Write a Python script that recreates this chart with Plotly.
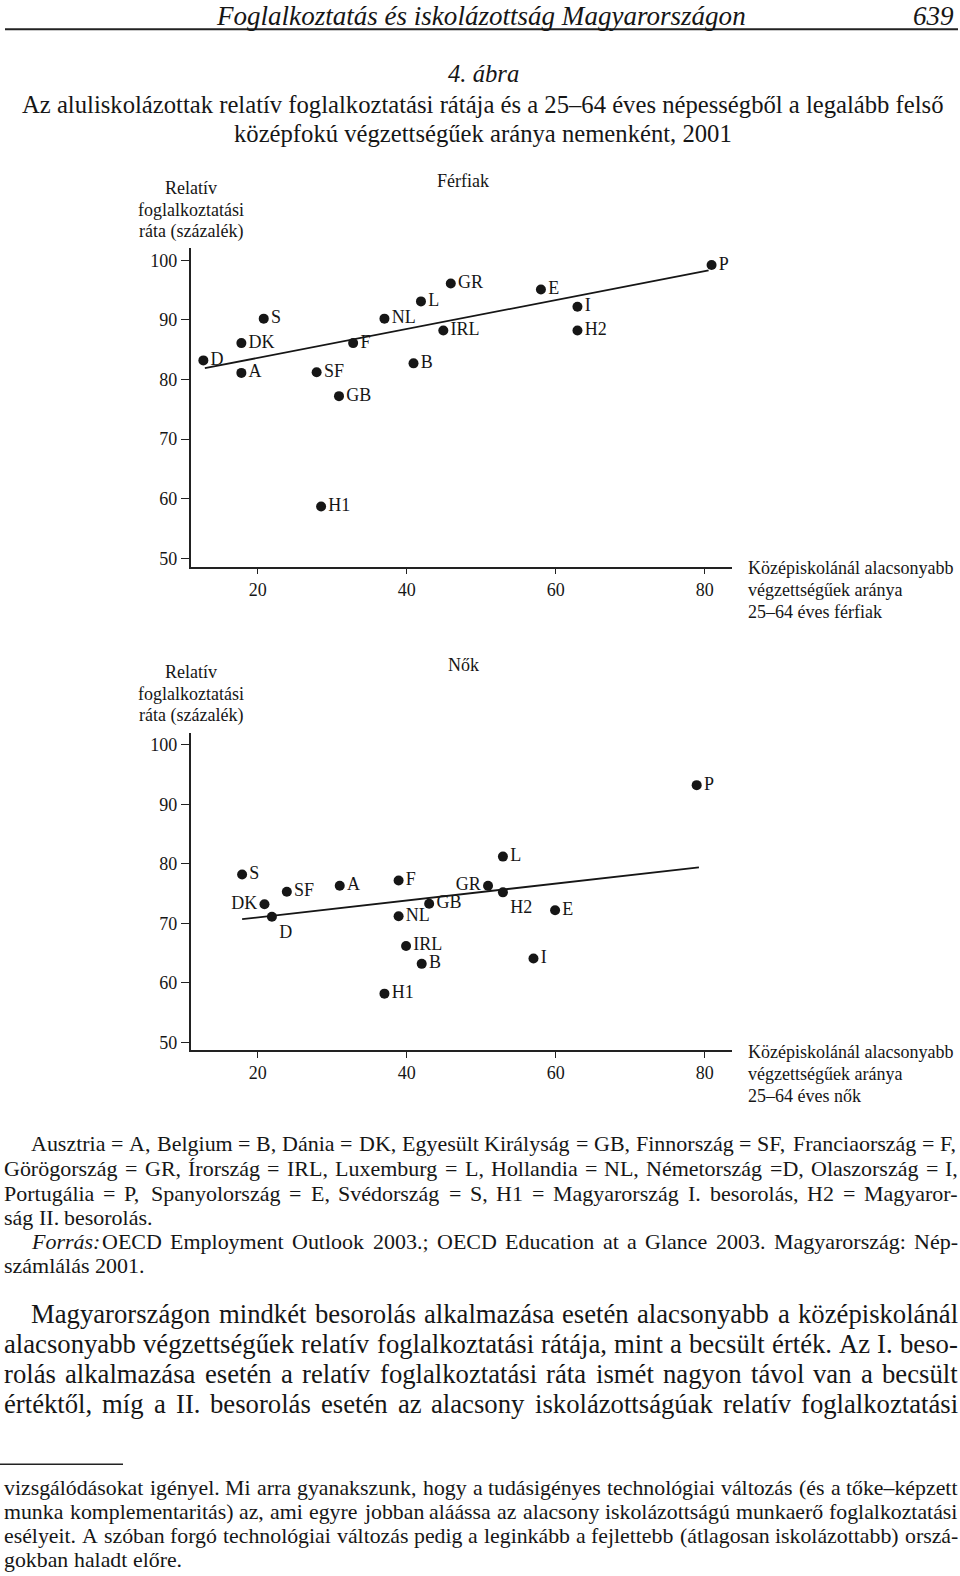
import unicodedata
import plotly.graph_objects as go

# ---------------- data ----------------
men_codes = ["D", "A", "DK", "S", "SF", "GB", "F", "NL", "B", "L", "GR", "IRL", "E", "I", "H2", "P", "H1"]
men_x = [12.7, 17.8, 17.8, 20.8, 27.9, 30.9, 32.8, 37.0, 40.9, 41.9, 45.9, 44.9, 58.0, 62.9, 62.9, 80.9, 28.5]
men_y = [83.2, 81.1, 86.1, 90.2, 81.2, 77.2, 86.1, 90.2, 82.7, 93.1, 96.1, 88.2, 95.1, 92.2, 88.2, 99.2, 58.7]
men_trend_x = [12.9, 80.5]
men_trend_y = [81.9, 98.3]

women_codes = ["S", "DK", "D", "SF", "A", "F", "NL", "IRL", "B", "H1", "GB", "GR", "L", "H2", "E", "I", "P"]
women_x = [17.9, 20.9, 21.9, 23.9, 31.0, 38.9, 38.9, 39.9, 42.0, 37.0, 43.0, 50.9, 52.9, 52.9, 59.9, 57.0, 78.9]
women_y = [78.2, 73.2, 71.1, 75.3, 76.3, 77.2, 71.2, 66.2, 63.2, 58.2, 73.3, 76.3, 81.2, 75.2, 72.2, 64.1, 93.2]
women_trend_x = [17.9, 79.2]
women_trend_y = [70.7, 79.4]

x_ticks = [20, 40, 60, 80]
y_ticks = [50, 60, 70, 80, 90, 100]

header_title = "Foglalkoztatás és iskolázottság Magyarországon"
page_no = "639"
fig_no = "4. ábra"
title_lines = [
    "Az aluliskolázottak relatív foglalkoztatási rátája és a 25–64 éves népességből a legalább felső",
    "középfokú végzettségűek aránya nemenként, 2001",
]
panel_titles = ["Férfiak", "Nők"]
y_title_lines = ["Relatív", "foglalkoztatási", "ráta (százalék)"]
x_title_lines_men = ["Középiskolánál alacsonyabb", "végzettségűek aránya", "25–64 éves férfiak"]
x_title_lines_women = ["Középiskolánál alacsonyabb", "végzettségűek aránya", "25–64 éves nők"]

legend_lines = [
    "Ausztria = A, Belgium = B, Dánia = DK, Egyesült Királyság = GB, Finnország = SF, Franciaország = F,",
    "Görögország = GR, Írország = IRL, Luxemburg = L, Hollandia = NL, Németország =D, Olaszország = I,",
    "Portugália = P, Spanyolország = E, Svédország = S, H1 = Magyarország I. besorolás, H2 = Magyaror-",
    "ság II. besorolás.",
    "*Forrás: OECD Employment Outlook 2003.; OECD Education at a Glance 2003. Magyarország: Nép-",
    "számlálás 2001.",
]
para_lines = [
    "Magyarországon mindkét besorolás alkalmazása esetén alacsonyabb a középiskolánál",
    "alacsonyabb végzettségűek relatív foglalkoztatási rátája, mint a becsült érték. Az I. beso-",
    "rolás alkalmazása esetén a relatív foglalkoztatási ráta ismét nagyon távol van a becsült",
    "értéktől, míg a II. besorolás esetén az alacsony iskolázottságúak relatív foglalkoztatási",
]
foot_lines = [
    "vizsgálódásokat igényel. Mi arra gyanakszunk, hogy a tudásigényes technológiai változás (és a tőke–képzett",
    "munka komplementaritás) az, ami egyre jobban aláássa az alacsony iskolázottságú munkaerő foglalkoztatási",
    "esélyeit. A szóban forgó technológiai változás pedig a leginkább a fejlettebb (átlagosan iskolázottabb) orszá-",
    "gokban haladt előre.",
]

# ---------------- helpers ----------------
W, H = 960, 1576
FONT = "Liberation Serif, Times New Roman, serif"
INK = "#161616"


def px(x):
    return x / W


def py(y):
    return 1 - y / H


_w = dict(zip("abcdefghijklmnopqrstuvwxyz",
              [444, 500, 444, 500, 444, 333, 500, 500, 278, 278, 500, 278, 778, 500, 500, 500, 500, 333, 389, 278,
               500, 500, 722, 500, 500, 444]))
_w.update(dict(zip("ABCDEFGHIJKLMNOPQRSTUVWXYZ",
                   [722, 667, 667, 722, 611, 556, 722, 722, 333, 389, 722, 611, 889, 722, 722, 556, 722, 667, 556,
                    611, 722, 722, 944, 722, 722, 611])))
_w.update({d: 500 for d in "0123456789"})
_w.update({" ": 250, ",": 250, ".": 250, ":": 278, ";": 278, "=": 564, "(": 333, ")": 333, "-": 333, "–": 500})


def em(s):
    tot = 0
    for c in s:
        b = unicodedata.normalize("NFD", c)[0]
        tot += _w.get(b, 500)
    return tot / 1000.0


annotations = []


def add_text(text, x, y, size, xanchor="left", italic=False, color=INK, yanchor="middle"):
    t = "<i>" + text + "</i>" if italic else text
    annotations.append(dict(text=t, x=px(x), y=py(y), xref="paper", yref="paper", xanchor=xanchor,
                            yanchor=yanchor, showarrow=False, borderpad=0,
                            font=dict(family=FONT, size=size, color=color)))


def justified_block(lines, first_indent_idx, ys, left, right, indent, size, last_flags):
    for i, line in enumerate(lines):
        x0 = left + (indent if i in first_indent_idx else 0)
        words = line.split(" ")
        italic_first = False
        if words[0].startswith("*"):
            words[0] = words[0][1:]
            italic_first = True
        if last_flags[i] or len(words) == 1:
            xc = x0
            for j, w in enumerate(words):
                add_text(w, xc, ys[i], size, italic=(italic_first and j == 0))
                xc += em(w) * size + em(" ") * size
            continue
        widths = [em(w) * size for w in words]
        gap = (right - x0 - sum(widths)) / (len(words) - 1)
        xc = x0
        for j, w in enumerate(words):
            add_text(w, xc, ys[i], size, italic=(italic_first and j == 0))
            xc += widths[j] + gap


# ---------------- figure ----------------
fig = go.Figure()

men_pos = ["middle right"] * len(men_codes)
women_pos = []
for c in women_codes:
    if c in ("DK", "GR"):
        women_pos.append("middle left")
    elif c in ("D", "H2"):
        women_pos.append("bottom right")
    else:
        women_pos.append("middle right")

fig.add_trace(go.Scatter(x=men_trend_x, y=men_trend_y, mode="lines", line=dict(color=INK, width=1.8),
                         xaxis="x", yaxis="y", hoverinfo="skip"))
fig.add_trace(go.Scatter(x=men_x, y=men_y, text=men_codes, mode="markers+text", textposition=men_pos,
                         marker=dict(size=10, color=INK), textfont=dict(family=FONT, size=18, color=INK),
                         xaxis="x", yaxis="y", cliponaxis=False))
fig.add_trace(go.Scatter(x=women_trend_x, y=women_trend_y, mode="lines", line=dict(color=INK, width=1.8),
                         xaxis="x2", yaxis="y2", hoverinfo="skip"))
fig.add_trace(go.Scatter(x=women_x, y=women_y, text=women_codes, mode="markers+text", textposition=women_pos,
                         marker=dict(size=10, color=INK), textfont=dict(family=FONT, size=18, color=INK),
                         xaxis="x2", yaxis="y2", cliponaxis=False))

xdom = [px(190.7), px(731.7)]
axis_common = dict(showline=True, linecolor="#222", linewidth=1.6, showgrid=False, zeroline=False,
                   ticks="outside", tickcolor="#222", tickwidth=1.4,
                   tickfont=dict(family=FONT, size=18, color=INK), fixedrange=True)

fig.update_layout(
    width=W, height=H, margin=dict(l=0, r=0, t=0, b=0),
    paper_bgcolor="white", plot_bgcolor="white", showlegend=False,
    xaxis=dict(domain=xdom, range=[11.0, 83.6], tickvals=x_ticks, ticklen=6, anchor="y", **axis_common),
    yaxis=dict(domain=[py(567.7), py(248.8)], range=[48.6, 102], tickvals=y_ticks, ticklen=8, anchor="x",
               **axis_common),
    xaxis2=dict(domain=xdom, range=[11.0, 83.6], tickvals=x_ticks, ticklen=6, anchor="y2", **axis_common),
    yaxis2=dict(domain=[py(1052.0), py(734.1)], range=[48.74, 102], tickvals=y_ticks, ticklen=8, anchor="x2",
                **axis_common),
)

# header
hs = 524 / em(header_title)
add_text(header_title, 481, 0, hs, xanchor="center", italic=True, yanchor="top")
add_text(page_no, 955, 0, hs, xanchor="right", italic=True, yanchor="top")
ts = 922 / em(title_lines[0])
add_text(fig_no, 483, 73.5, ts, xanchor="center", italic=True)
add_text(title_lines[0], 483, 104.7, ts, xanchor="center")
add_text(title_lines[1], 483, 134, ts, xanchor="center")

# panel texts
for title, ty, yt0, xt0, xlines in [(panel_titles[0], 181.3, 188.3, 569, x_title_lines_men),
                                    (panel_titles[1], 666.5, 673.7, 1054, x_title_lines_women)]:
    add_text(title, 463, ty, 18, xanchor="center")
    for k, s in enumerate(y_title_lines):
        add_text(s, 191.3, yt0 + 21.65 * k, 18, xanchor="center")
    for k, s in enumerate(xlines):
        add_text(s, 746.7, xt0 + 21.85 * k, 18, xanchor="left")

# text blocks
left, right, indent = 3, 957, 27
leg_size = min((right - left - (indent if i in (0, 4) else 0)) / em(l.lstrip("*"))
               for i, l in enumerate(legend_lines) if i in (0, 1, 2, 4)) * 0.995
justified_block(legend_lines, {0, 4}, [1146, 1170.3, 1195.4, 1219.5, 1243.7, 1267.9], left, right, indent,
                leg_size, [False, False, False, True, False, True])
par_size = min((right - left - (indent if i == 0 else 0)) / em(l) for i, l in enumerate(para_lines)) * 0.995
justified_block(para_lines, {0}, [1316.2, 1346.4, 1376.6, 1406.8], left, right, indent, par_size, [False] * 4)
foot_size = min((right - left) / em(l) for l in foot_lines[:3]) * 0.995
justified_block(foot_lines, set(), [1490.4, 1514.6, 1538.8, 1562.6], left, right, 0, foot_size,
                [False, False, False, True])

shapes = [
    dict(type="line", xref="paper", yref="paper", x0=px(5), x1=px(958), y0=py(29.2), y1=py(29.2),
         line=dict(color="#222", width=2)),
    dict(type="line", xref="paper", yref="paper", x0=px(0), x1=px(123), y0=py(1467), y1=py(1467),
         line=dict(color="#222", width=1.4)),
]
fig.update_layout(annotations=annotations, shapes=shapes)

page_fix = (
    "var b=document.body, h=document.documentElement;"
    "h.style.margin='0';h.style.padding='0';h.style.overflow='hidden';h.style.height='1576px';"
    "b.style.margin='0';b.style.padding='0';b.style.overflow='hidden';b.style.height='1576px';"
    "b.style.fontSize='0';b.style.lineHeight='0';"
)
fig.write_html("out.html", config={"displayModeBar": False, "responsive": False}, post_script=page_fix)
